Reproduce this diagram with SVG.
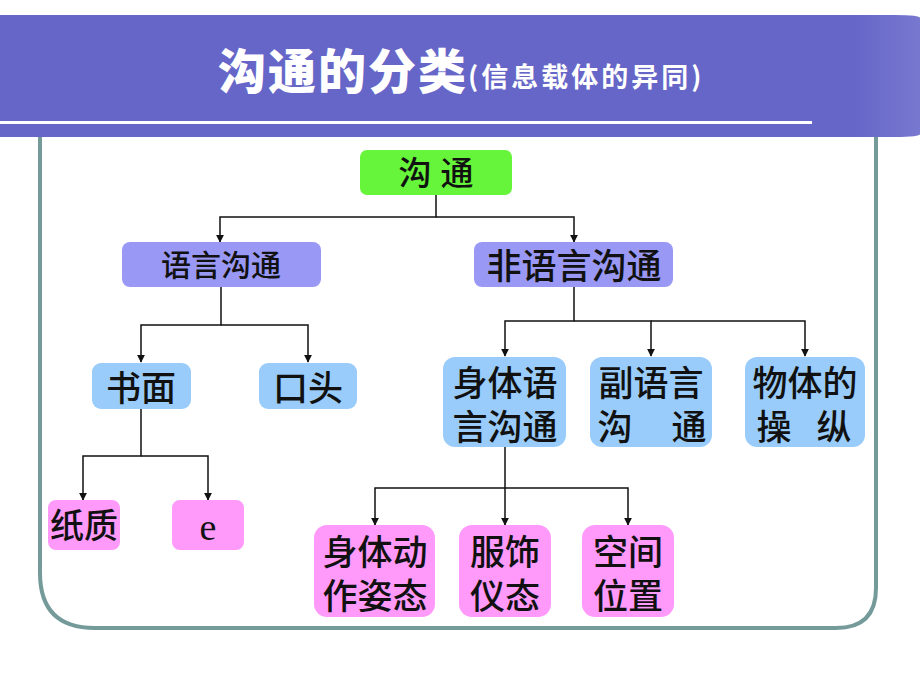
<svg xmlns="http://www.w3.org/2000/svg" width="920" height="690" viewBox="0 0 920 690">
<defs>
<style>
.t{font-family:"Liberation Sans","Noto Sans CJK SC",sans-serif;font-weight:500;fill:#111;text-anchor:middle}
.c{fill:none;stroke:#111;stroke-width:1.5}
.g{fill:#66F53A}
.p{fill:#9999F5}
.b{fill:#99CCFA}
.k{fill:#FF99FA}
</style>
<marker id="ar" viewBox="0 0 10 10" refX="9" refY="5" markerWidth="8" markerHeight="8" markerUnits="userSpaceOnUse" orient="auto">
<path d="M0,0 L10,5 L0,10 z" fill="#111"/>
</marker>
<linearGradient id="bn" x1="0" y1="0" x2="1" y2="0">
<stop offset="0.93" stop-color="#6666C8"/>
<stop offset="1" stop-color="#7878D0"/>
</linearGradient>
</defs>
<rect width="920" height="690" fill="#fff"/>
<path d="M40,130 L40,573 Q40,628 95,628 L836,628 Q876,628 876,588 L876,130" fill="none" stroke="#759A9A" stroke-width="4"/>
<path d="M0,15 L895,15 Q920,15 920,18 L920,134 Q920,137 895,137 L0,137 Z" fill="url(#bn)"/>
<rect x="0" y="121" width="812" height="3" fill="#fff"/>
<text x="218" y="89" font-family="Noto Sans CJK SC,sans-serif" font-weight="900" font-size="48" fill="#fff" letter-spacing="2">沟通的分类</text>
<text x="468" y="87" font-family="Noto Sans CJK SC,sans-serif" font-weight="700" font-size="27" fill="#fff" letter-spacing="3">(信息载体的异同)</text>
<g id="connectors">
<path class="c" d="M436,195 V217 H220 V242" marker-end="url(#ar)"/>
<path class="c" d="M436,217 H574 V242" marker-end="url(#ar)"/>
<path class="c" d="M221,287 V325 H141 V362" marker-end="url(#ar)"/>
<path class="c" d="M221,325 H308 V362" marker-end="url(#ar)"/>
<path class="c" d="M574,287 V321 H505 V356" marker-end="url(#ar)"/>
<path class="c" d="M574,321 H651 V356" marker-end="url(#ar)"/>
<path class="c" d="M651,321 H805 V356" marker-end="url(#ar)"/>
<path class="c" d="M141,409 V456 H83 V500" marker-end="url(#ar)"/>
<path class="c" d="M141,456 H208 V500" marker-end="url(#ar)"/>
<path class="c" d="M505,447 V525" marker-end="url(#ar)"/>
<path class="c" d="M505,488 H375 V525" marker-end="url(#ar)"/>
<path class="c" d="M505,488 H628 V525" marker-end="url(#ar)"/>
</g>
<g id="n-goutong"><rect class="g" x="360" y="150" width="152" height="45" rx="7"/><text class="t" x="436" y="185" font-size="33">沟 通</text></g>
<g id="n-yuyan"><rect class="p" x="122" y="242" width="199" height="45" rx="8"/><text class="t" x="221" y="276" font-size="30">语言沟通</text></g>
<g id="n-feiyuyan"><rect class="p" x="474" y="242" width="199" height="45" rx="8"/><text class="t" x="574" y="279" font-size="35">非语言沟通</text></g>
<g id="n-shumian"><rect class="b" x="92" y="363" width="99" height="46" rx="9"/><text class="t" x="141" y="401" font-size="35">书面</text></g>
<g id="n-koutou"><rect class="b" x="259" y="363" width="98" height="46" rx="9"/><text class="t" x="308" y="401" font-size="35">口头</text></g>
<g id="n-shenti"><rect class="b" x="443" y="357" width="123" height="90" rx="12"/><text class="t" font-size="35"><tspan x="505" y="396">身体语</tspan><tspan x="505" y="440">言沟通</tspan></text></g>
<g id="n-fuyuyan"><rect class="b" x="590" y="357" width="122" height="90" rx="12"/><text class="t" font-size="35"><tspan x="651" y="396">副语言</tspan><tspan x="615" y="440">沟</tspan><tspan x="689" y="440">通</tspan></text></g>
<g id="n-wuti"><rect class="b" x="745" y="357" width="120" height="90" rx="12"/><text class="t" font-size="35"><tspan x="805" y="396">物体的</tspan><tspan x="774" y="440">操</tspan><tspan x="834" y="440">纵</tspan></text></g>
<g id="n-zhizhi"><rect class="k" x="48" y="500" width="72" height="50" rx="8"/><text class="t" x="84" y="538" font-size="34">纸质</text></g>
<g id="n-e"><rect class="k" x="172" y="500" width="72" height="50" rx="8"/><text x="208" y="540" font-family="Liberation Serif,serif" font-size="38" fill="#111" text-anchor="middle">e</text></g>
<g id="n-dongzuo"><rect class="k" x="314" y="525" width="121" height="92" rx="13"/><text class="t" font-size="35"><tspan x="375" y="565">身体动</tspan><tspan x="375" y="609">作姿态</tspan></text></g>
<g id="n-fushi"><rect class="k" x="459" y="525" width="92" height="92" rx="13"/><text class="t" font-size="35"><tspan x="505" y="565">服饰</tspan><tspan x="505" y="609">仪态</tspan></text></g>
<g id="n-kongjian"><rect class="k" x="582" y="525" width="92" height="92" rx="13"/><text class="t" font-size="35"><tspan x="628" y="565">空间</tspan><tspan x="628" y="609">位置</tspan></text></g>
</svg>
